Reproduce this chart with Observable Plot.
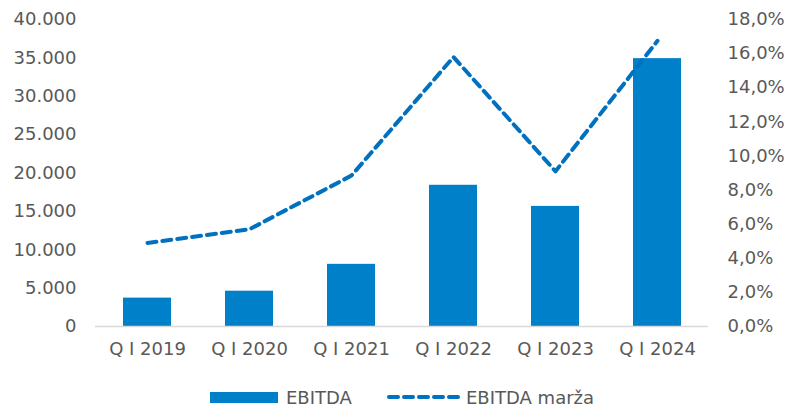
<!DOCTYPE html>
<html><head><meta charset="utf-8">
<script src="https://cdn.jsdelivr.net/npm/d3@7"></script>
<script src="https://cdn.jsdelivr.net/npm/@observablehq/plot@0.6"></script>
<style>
body{margin:0;background:#fff;font-family:"DejaVu Sans",Verdana,sans-serif;}
#wrap{position:relative;width:792px;height:408px;}
#legend{position:absolute;left:0;top:386px;width:792px;height:22px;font-size:18px;color:#595959;}
.it{position:absolute;top:0;display:flex;align-items:center;height:22px;}
</style></head>
<body><div id="wrap"><div id="chart"></div>
<div id="legend">
 <div class="it" style="left:210px"><span style="display:inline-block;width:68px;height:11px;background:#0080C8;margin-right:8px"></span>EBITDA</div>
 <div class="it" style="left:386px"><svg width="76" height="10" style="margin-right:4px"><line x1="3" y1="5" x2="73" y2="5" stroke="#0071C1" stroke-width="4" stroke-dasharray="9,6" stroke-linecap="round"/></svg>EBITDA marža</div>
</div></div>
<script>
const categories = ["Q I 2019","Q I 2020","Q I 2021","Q I 2022","Q I 2023","Q I 2024"];
const ebitda = [3700, 4600, 8100, 18400, 15650, 34900];
const marza = [4.9, 5.7, 8.85, 15.8, 9.1, 16.75];
const leftTicks = [0,5000,10000,15000,20000,25000,30000,35000,40000];
const rightTicks = [0,2,4,6,8,10,12,14,16,18];

const yMax = 40000, rMax = 18;
const toLeft = v => v / rMax * yMax;
const data = categories.map((c,i)=>({c, e: ebitda[i], m: toLeft(marza[i])}));
const fmtL = d => d === 0 ? "0" : d3.format(",")(d).replace(/,/g, ".");
const fmtR = d => (d / yMax * rMax).toFixed(1).replace(".", ",") + "%";

const chart = Plot.plot({
  width: 792, height: 375,
  marginLeft: 95, marginRight: 84, marginTop: 19, marginBottom: 49,
  style: {fontFamily: '"DejaVu Sans",Verdana,sans-serif', fontSize: "18px", color: "#595959"},
  x: {domain: categories, paddingInner: 0.53, paddingOuter: 0.265, label: null},
  y: {domain: [0, yMax], label: null},
  marks: [
    Plot.barY(data, {x: "c", y: "e", fill: "#0080C8"}),
    Plot.ruleY([0], {stroke: "#D9D9D9", strokeWidth: 1.5}),
    Plot.lineY(data, {x: "c", y: "m", stroke: "#0071C1", strokeWidth: 4, strokeDasharray: "9,6", strokeLinecap: "round"}),
    Plot.axisY(leftTicks, {anchor: "left", tickSize: 0, tickPadding: 19, tickFormat: fmtL, label: null, fill: "#595959"}),
    Plot.axisY(rightTicks.map(toLeft), {anchor: "right", tickSize: 0, tickPadding: 19, tickFormat: fmtR, label: null, fill: "#595959"}),
    Plot.axisX({tickSize: 0, tickPadding: 16, label: null, fill: "#595959", style: {letterSpacing: "0.6px"}})
  ]
});
document.getElementById("chart").appendChild(chart);
</script></body></html>
